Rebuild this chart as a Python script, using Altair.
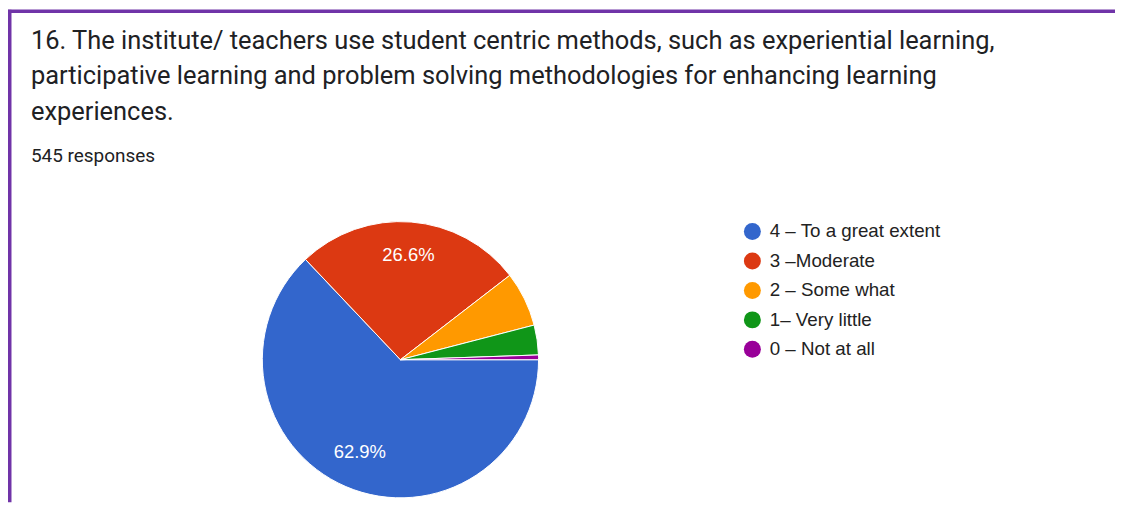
import math
import altair as alt
import pandas as pd

# ---- data ----
CATEGORIES = ["4 – To a great extent", "3 –Moderate", "2 – Some what", "1– Very little", "0 – Not at all"]
COUNTS = [343, 145, 35, 19, 3]
COLORS = ["#3366CC", "#DC3912", "#FF9900", "#109618", "#990099"]
TITLE_LINES = [
    "16. The institute/ teachers use student centric methods, such as experiential learning,",
    "participative learning and problem solving methodologies for enhancing learning",
    "experiences.",
]
SUBTITLE = "545 responses"

W, H = 1110, 495
CX, CY, R = 393.5, 352, 138.5
BORDER = "#7034A8"
FONT = "Roboto"
LFONT = "Liberation Sans"

total = sum(COUNTS)
df = pd.DataFrame({
    "category": CATEGORIES,
    "count": COUNTS,
    "order": list(range(len(CATEGORIES))),
})
df["label"] = [f"{c / total * 100:.1f}%" if c / total >= 0.10 else "" for c in COUNTS]

theta_scale = alt.Scale(range=[math.pi / 2, math.pi / 2 + 2 * math.pi])
color_scale = alt.Scale(domain=CATEGORIES, range=COLORS)

base = alt.Chart(df)

pie = base.mark_arc(outerRadius=R, stroke="white", strokeWidth=1).encode(
    theta=alt.Theta("count:Q", stack=True, scale=theta_scale),
    color=alt.Color(
        "category:N",
        scale=color_scale,
        sort=CATEGORIES,
        legend=alt.Legend(
            title=None,
            orient="none",
            legendX=737,
            legendY=214,
            symbolType="circle",
            symbolSize=290,
            symbolStrokeWidth=0,
            labelFont=LFONT,
            labelFontSize=18.8,
            labelColor="#222222",
            labelOffset=8,
            rowPadding=9.55,
            labelLimit=400,
        ),
    ),
    order=alt.Order("order:Q"),
    x=alt.value(CX),
    y=alt.value(CY),
)

labels = base.mark_text(
    radius=103, font=LFONT, fontSize=18.5, color="white"
).encode(
    theta=alt.Theta("count:Q", stack=True, scale=theta_scale),
    order=alt.Order("order:Q"),
    text="label:N",
    x=alt.value(CX),
    y=alt.value(CY - 2),
)

title_df = pd.DataFrame({"line": TITLE_LINES, "i": list(range(len(TITLE_LINES)))})
title = alt.Chart(title_df).mark_text(
    align="left", baseline="middle", font=FONT, fontSize=25.5, color="#202124"
).encode(
    text="line:N",
    x=alt.value(23),
    y=alt.Y("i:Q", scale=alt.Scale(domain=[0, 2], range=[32, 104]), axis=None),
)

sub = alt.Chart(pd.DataFrame({"t": [SUBTITLE]})).mark_text(
    align="left", baseline="middle", font=FONT, fontSize=19, color="#202124"
).encode(text="t:N", x=alt.value(23), y=alt.value(148))

dummy = pd.DataFrame({"k": [0]})
left_border = alt.Chart(dummy).mark_rule(color=BORDER, strokeWidth=4).encode(
    x=alt.value(1.5), y=alt.value(1), y2=alt.value(H)
)
top_border = alt.Chart(dummy).mark_rule(color=BORDER, strokeWidth=3.5).encode(
    x=alt.value(0), x2=alt.value(W), y=alt.value(2.7)
)

chart = alt.layer(left_border, top_border, title, sub, pie, labels).resolve_scale(
    y="independent"
).properties(
    width=W, height=H, padding=0, autosize=alt.AutoSizeParams(type="none"),
    background="white",
).configure_view(stroke=None)

chart.save("out.html", embed_options={"renderer": "svg", "actions": False})
